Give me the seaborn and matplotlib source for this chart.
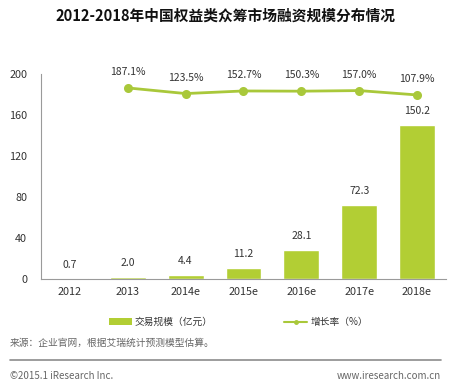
import matplotlib
matplotlib.use("Agg")
import matplotlib.pyplot as plt
import seaborn as sns
import pandas as pd
import numpy as np
from matplotlib.patches import Patch
from matplotlib.lines import Line2D

years = ["2012", "2013", "2014e", "2015e", "2016e", "2017e", "2018e"]
volume = [0.7, 2.0, 4.4, 11.2, 28.1, 72.3, 150.2]
growth = [np.nan, 187.1, 123.5, 152.7, 150.3, 157.0, 107.9]
growth_labels = ["", "187.1%", "123.5%", "152.7%", "150.3%", "157.0%", "107.9%"]
yticks = [0, 40, 80, 120, 160, 200]

title = "2012-2018年中国权益类众筹市场融资规模分布情况"
legend_bar = "交易规模（亿元）"
legend_line = "增长率（%）"
source = "来源：企业官网，根据艾瑞统计预测模型估算。"
footer_left = "©2015.1 iResearch Inc."
footer_right = "www.iresearch.com.cn"

sns.set_theme(style="white")
plt.rcParams["font.family"] = ["Noto Sans CJK SC", "DejaVu Sans"]

bar_color = "#B2CE34"
line_color = "#A9C83A"
text_color = "#333333"

df = pd.DataFrame({"year": years, "volume": volume, "growth": growth})

fig = plt.figure(figsize=(4.5, 3.85), dpi=100)
ax = fig.add_axes([0.091, 0.275, 0.9, 0.533])

sns.barplot(data=df, x="year", y="volume", order=years, color=bar_color,
            width=0.62, ax=ax, saturation=1)
ax.set_ylim(0, 200)
ax.set_yticks(yticks)
ax.set_xlabel("")
ax.set_ylabel("")
ax.tick_params(axis="both", labelsize=7.8, colors=text_color, length=0, pad=6)
ax.tick_params(axis="y", pad=10)
for s in ["top", "right"]:
    ax.spines[s].set_visible(False)
for s in ["left", "bottom"]:
    ax.spines[s].set_color("#9a9a9a")
    ax.spines[s].set_linewidth(0.8)

for i, v in enumerate(volume):
    ax.annotate(f"{v:.1f}", (i, v), xytext=(0, 10), textcoords="offset points",
                ha="center", va="center", fontsize=7.5, color=text_color)

ax2 = ax.twinx()
sns.pointplot(data=df, x="year", y="growth", order=years, color=line_color,
              markers="o", errorbar=None, ax=ax2, linewidth=2, markersize=5)
ax2.set_ylim(-1970, 345)
ax2.set_xlim(ax.get_xlim())
ax2.axis("off")
for i, (g, lab) in enumerate(zip(growth, growth_labels)):
    if lab:
        ax2.annotate(lab, (i, g), xytext=(0, 11.5), textcoords="offset points",
                     ha="center", va="center", fontsize=7.5, color=text_color)

fig.text(0.502, 0.958, title, ha="center", va="center", fontsize=10.6,
         fontweight="bold", color="#111111")

handles = [Patch(facecolor=bar_color, edgecolor="none"),
           Line2D([0], [0], color=line_color, lw=1.5, marker="o", markersize=2.5)]
fig.legend(handles, [legend_bar, legend_line], ncol=2, loc="center left",
           bbox_to_anchor=(0.222, 0.163), frameon=False, fontsize=7,
           handlelength=2.4, handletextpad=0.3, columnspacing=7.3,
           labelcolor=text_color)

fig.text(0.022, 0.109, source, ha="left", va="center", fontsize=7, color="#666666")
fig.add_artist(Line2D([0.022, 0.98], [0.065, 0.065], color="#8c8c8c", lw=1.2,
                      transform=fig.transFigure))
fig.text(0.022, 0.023, footer_left, ha="left", va="center", fontsize=7, color="#666666")
fig.text(0.98, 0.023, footer_right, ha="right", va="center", fontsize=7, color="#666666")

fig.savefig("out.png", dpi=100)
